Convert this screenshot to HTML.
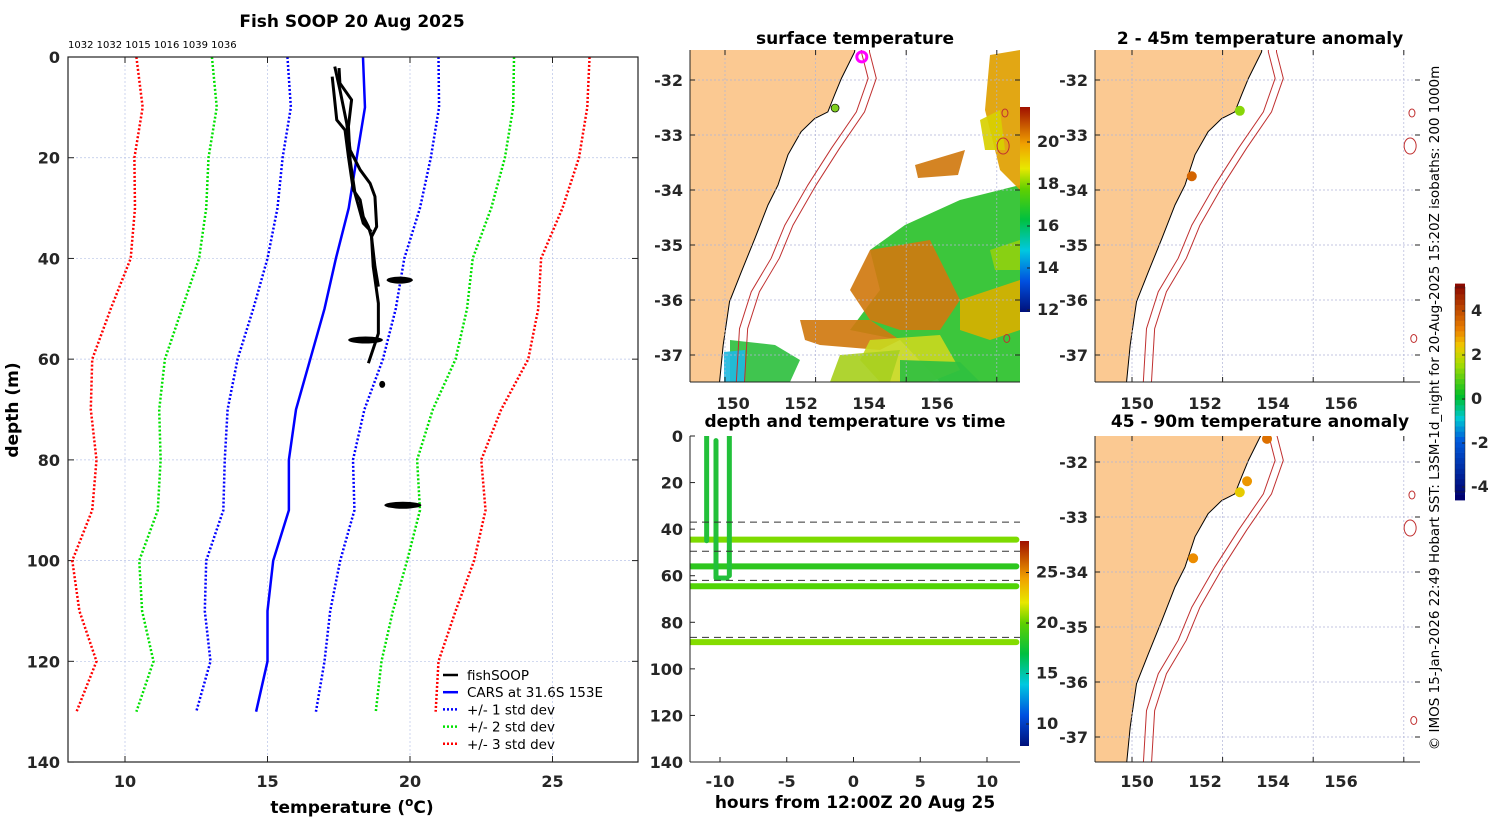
<!DOCTYPE html>
<html><head><meta charset="utf-8">
<style>
html,body{margin:0;padding:0;background:#fff;}
svg{display:block;font-family:"DejaVu Sans","Liberation Sans",sans-serif;}
.tk{font-weight:bold;font-size:16px;fill:#262626;}
.tt{font-weight:bold;font-size:17px;fill:#000;}
</style></head>
<body>
<svg id="fig" width="1500" height="820" viewBox="0 0 1500 820" xmlns="http://www.w3.org/2000/svg">
<defs>
<clipPath id="c1"><rect x="68" y="57" width="570" height="705"/></clipPath>
<clipPath id="c2"><rect x="690" y="50" width="330" height="332"/></clipPath>
<clipPath id="c3"><rect x="690" y="436" width="330" height="326"/></clipPath>
<clipPath id="c4"><rect x="1095" y="50" width="325" height="332"/></clipPath>
<clipPath id="c5"><rect x="1095" y="436" width="325" height="326"/></clipPath>
<linearGradient id="sstcb" x1="0" y1="1" x2="0" y2="0">
<stop offset="0" stop-color="#00107a"/><stop offset="0.15" stop-color="#0050e0"/><stop offset="0.3" stop-color="#00c8e0"/><stop offset="0.45" stop-color="#00c040"/><stop offset="0.6" stop-color="#60d000"/><stop offset="0.7" stop-color="#e8e800"/><stop offset="0.82" stop-color="#f0a000"/><stop offset="1" stop-color="#a01000"/>
</linearGradient>
</defs>
<text class="tt" x="352" y="27" text-anchor="middle">Fish SOOP 20 Aug 2025</text>
<text x="68" y="48" font-size="10" fill="#000">1032 1032 1015 1016 1039 1036</text>
<text class="tt" x="855" y="44" text-anchor="middle">surface temperature</text>
<text class="tt" x="855" y="427" text-anchor="middle">depth and temperature vs time</text>
<text class="tt" x="1260" y="44" text-anchor="middle">2 - 45m temperature anomaly</text>
<text class="tt" x="1260" y="427" text-anchor="middle">45 - 90m temperature anomaly</text>
<text class="tt" x="352" y="813" text-anchor="middle">temperature (<tspan baseline-shift="super" font-size="12">o</tspan>C)</text>
<text class="tt" x="0" y="0" transform="translate(18,410) rotate(-90)" text-anchor="middle">depth (m)</text>
<text class="tt" x="855" y="808" text-anchor="middle">hours from 12:00Z 20 Aug 25</text>
<text x="0" y="0" font-size="13.5" fill="#000" transform="translate(1439,408) rotate(-90)" text-anchor="middle">© IMOS 15-Jan-2026 22:49 Hobart SST: L3SM-1d_night for 20-Aug-2025 15:20Z isobaths: 200  1000m</text>
<g id="g1"></g><g id="g2"></g><g id="g3"></g><g id="g4"></g><g id="g5"></g>
</svg>
<script>
// ---- profile data ----
const carsDepth=[0,10,20,30,40,50,60,70,80,90,100,110,120,130];
const carsTemp=[18.35,18.42,18.13,17.85,17.4,17.0,16.5,16.0,15.75,15.75,15.2,15.0,15.0,14.6];
const carsSd=[2.65,2.6,2.6,2.5,2.4,2.5,2.55,2.4,2.25,2.3,2.35,2.2,2.0,2.1];
const fishA=[[3.9,17.27],[12.5,17.43],[14.5,17.72],[19.8,17.84],[26.4,18.01],[28.4,18.25],[31.7,18.36],[33.7,18.54],[35.7,18.65],[41.6,18.77],[45.6,18.89]];
const fishB=[[1.9,17.36],[6.5,17.54],[13.2,17.78],[18.5,17.9],[22.4,18.25],[25.1,18.6],[27.7,18.77],[33.7,18.83],[35.7,18.65],[41.6,18.71],[48.9,18.89],[54.9,18.89],[60.8,18.54]];
const fishC=[[2.2,17.51],[5.2,17.54],[8.5,17.95],[13.8,17.84],[20.5,17.9],[27.1,18.07],[33,18.36],[34.7,18.65]];
const fishHold=[[44.3,19.18,20.1],[56.2,17.83,19.05],[65,18.95,19.1],[89,19.1,20.4]];
const tempTicks=[10,15,20,25];
const depthTicks=[0,20,40,60,80,100,120,140];
// ---- time panel data ----
const trackDepths=[44.5,56,64.5,88.5];
const trackTemps=[19.5,18.0,18.8,19.6];
const castHours=[-11,-10.3,-9.3];
const castBottoms=[45,61,60];
const castTops=[0,2,0];
const layerBounds=[37,49.5,62,86.5];
const hourTicks=[-10,-5,0,5,10];
const tpCbTicks=[10,15,20,25];
// ---- map data ----
const coast=[[152.9,-31.2],[152.86,-31.49],[152.57,-31.97],[152.42,-32.27],[152.27,-32.58],[151.98,-32.70],[151.68,-32.94],[151.39,-33.36],[151.17,-33.91],[150.95,-34.27],[150.66,-34.88],[150.36,-35.49],[150.10,-36.03],[149.96,-36.82],[149.88,-37.49],[149.86,-37.8]];
const iso200=[[153.01,-31.2],[153.01,-31.49],[153.16,-31.97],[152.90,-32.58],[152.35,-33.24],[151.83,-33.91],[151.32,-34.64],[151.02,-35.24],[150.58,-35.85],[150.32,-36.52],[150.25,-37.49],[150.24,-37.8]];
const lonTicks=[150,152,154,156];
const latTicks=[-32,-33,-34,-35,-36,-37];
const shallowLon=[151.32,152.38], shallowLat=[-33.75,-32.56], shallowAnom=[3.5,1.2];
const deepLon=[152.98,152.54,152.38,151.35], deepLat=[-31.58,-32.35,-32.55,-33.75], deepAnom=[3.3,2.8,2.2,2.9];
const seamountLon=[156.18,156.14,156.22], seamountLat=[-32.6,-33.2,-36.7];
const sstCbTicks=[12,14,16,18,20];
const anomCbTicks=[-4,-2,0,2,4];

const NS="http://www.w3.org/2000/svg";
function mk(p,t,a){const e=document.createElementNS(NS,t);for(const k in a)e.setAttribute(k,a[k]);p.appendChild(e);return e;}
function txt(p,x,y,s,cls,anchor){const e=mk(p,'text',{x:x,y:y,'class':cls,'text-anchor':anchor||'middle'});e.textContent=s;return e;}
function lerpC(stops,v){for(let i=1;i<stops.length;i++){if(v<=stops[i][0]||i==stops.length-1){const a=stops[i-1],b=stops[i];let f=(v-a[0])/(b[0]-a[0]);f=Math.max(0,Math.min(1,f));const c=[0,1,2].map(j=>Math.round(a[1][j]+(b[1][j]-a[1][j])*f));return 'rgb('+c.join(',')+')';}}}

// ===== Panel 1 =====
const g1=document.getElementById('g1');
const X1=t=>68+(t-8)*28.5, Y1=d=>57+d*5.036;
tempTicks.forEach(t=>{const l=mk(g1,'line',{x1:X1(t),x2:X1(t),y1:57,y2:762,stroke:'#b8c4e8','stroke-width':0.7,'stroke-dasharray':'2,2'});
 mk(g1,'line',{x1:X1(t),x2:X1(t),y1:57,y2:63,stroke:'#222'});mk(g1,'line',{x1:X1(t),x2:X1(t),y1:762,y2:756,stroke:'#222'});
 const tx=txt(g1,X1(t),787,String(t),'tk');});
depthTicks.forEach(d=>{if(d>0&&d<140){const l=mk(g1,'line',{x1:68,x2:638,y1:Y1(d),y2:Y1(d),stroke:'#b8c4e8','stroke-width':0.7,'stroke-dasharray':'2,2'});}
 mk(g1,'line',{x1:68,x2:74,y1:Y1(d),y2:Y1(d),stroke:'#222'});mk(g1,'line',{x1:638,x2:632,y1:Y1(d),y2:Y1(d),stroke:'#222'});
 const tx=txt(g1,60,Y1(d)+6,String(d),'tk','end');});
const p1=mk(g1,'g',{'clip-path':'url(#c1)'});
function pl(p,pts,attrs,name){const e=mk(p,'polyline',Object.assign({points:pts.map(q=>q.join(',')).join(' '),fill:'none'},attrs));return e;}
const sdCols=['#0000ff','#00e000','#ff0000'];
[1,2,3].forEach(k=>{[-1,1].forEach(s=>{pl(p1,carsDepth.map((d,i)=>[X1(carsTemp[i]+s*k*carsSd[i]),Y1(d)]),{stroke:sdCols[k-1],'stroke-width':2.5,'stroke-dasharray':'2,2'},'std-dev-'+k+(s<0?'-low':'-high'));});});
pl(p1,carsDepth.map((d,i)=>[X1(carsTemp[i]),Y1(d)]),{stroke:'#0000ff','stroke-width':2.5},'cars-mean-line');
[fishA,fishB,fishC].forEach((f,i)=>pl(p1,f.map(q=>[X1(q[1]),Y1(q[0])]),{stroke:'#000','stroke-width':3,'stroke-linejoin':'round'},'fishsoop-profile-'+(i+1)));
fishHold.forEach(h=>{const e=mk(p1,'ellipse',{cx:(X1(h[1])+X1(h[2]))/2,cy:Y1(h[0]),rx:Math.max(3,(X1(h[2])-X1(h[1]))/2),ry:3.5,fill:'#000'});});
mk(g1,'rect',{x:68,y:57,width:570,height:705,fill:'none',stroke:'#222','stroke-width':1.2});
const lg=mk(g1,'g',{});
const legItems=[['fishSOOP','#000',''],['CARS at 31.6S 153E','#0000ff',''],['+/- 1 std dev','#0000ff','2,2'],['+/- 2 std dev','#00e000','2,2'],['+/- 3 std dev','#ff0000','2,2']];
legItems.forEach((it,i)=>{const y=675+i*17.2;mk(lg,'line',{x1:443,x2:458,y1:y,y2:y,stroke:it[1],'stroke-width':2.5,'stroke-dasharray':it[2]});const t=mk(lg,'text',{x:467,y:y+5,'font-size':'13.5',fill:'#000'});t.textContent=it[0];});

// ===== map helper =====
function drawMap(gid,clip,x0,y0,w,h,x150,lab150,lat32y,latPx,showSst){
 const g=document.getElementById(gid);
 const LX=l=>x150+(l-150)*45.3, LY=a=>lat32y+(-32-a)*latPx;
 const cg=mk(g,'g',{'clip-path':'url(#'+clip+')'});
 const land=coast.map(q=>[LX(q[0]),LY(q[1])]);
 const lp=mk(cg,'polygon',{points:[[x0-5,y0-20]].concat(land).concat([[x0-5,y0+h+20]]).map(q=>q.join(',')).join(' '),fill:'#fbc992',stroke:'#000','stroke-width':1});
 
 if(showSst){
  const blobs=[
   ['#2bc12b',[[905,225],[960,200],[1020,185],[1020,382],[940,382],[900,340],[850,330],[880,290],[870,250]]],
   ['#d07a10',[[870,250],[930,240],[960,300],[940,330],[900,330],[870,320],[850,290]]],
   ['#d07a10',[[800,320],[870,320],[900,340],[880,350],[820,345],[805,340]]],
   ['#c8d820',[[870,340],[940,335],[960,370],[930,382],[880,382],[860,360]]],
   ['#d8b000',[[960,300],[1020,280],[1020,330],[990,340],[960,330]]],
   ['#30c040',[[730,340],[775,345],[800,360],[790,382],[730,382]]],
   ['#20b8e0',[[724,352],[745,350],[745,382],[724,382]]],
   ['#e0a000',[[990,55],[1020,50],[1020,190],[1000,170],[985,110]]],
   ['#d8d000',[[980,120],[1000,110],[1005,150],[985,150]]],
   ['#90d010',[[990,250],[1020,240],[1020,270],[995,270]]],
   ['#d07a10',[[915,165],[965,150],[958,175],[918,178]]],
   ['#a8d020',[[840,355],[900,350],[890,382],[830,382]]],
   ['#30c040',[[900,360],[960,362],[980,382],[900,382]]]];
  blobs.forEach(b=>{const e=mk(cg,'polygon',{points:b[1].map(q=>q.join(',')).join(' '),fill:b[0],opacity:0.92});});
 }
 lonTicks.forEach(l=>{const x=LX(l);const e=mk(cg,'line',{x1:x,x2:x,y1:y0,y2:y0+h,stroke:'#b0b4d8','stroke-width':0.7,'stroke-dasharray':'2,2'});
  mk(g,'line',{x1:x,x2:x,y1:y0+h,y2:y0+h-5,stroke:'#222'});mk(g,'line',{x1:x,x2:x,y1:y0,y2:y0+5,stroke:'#222'});});
 latTicks.forEach(a=>{const y=LY(a);if(y<y0||y>y0+h)return;const e=mk(cg,'line',{x1:x0,x2:x0+w,y1:y,y2:y,stroke:'#b0b4d8','stroke-width':0.7,'stroke-dasharray':'2,2'});
  mk(g,'line',{x1:x0,x2:x0+5,y1:y,y2:y,stroke:'#222'});mk(g,'line',{x1:x0+w,x2:x0+w-5,y1:y,y2:y,stroke:'#222'});
  const t=txt(g,x0-7,y+6,String(a),'tk','end');});
 pl(cg,iso200.map(q=>[LX(q[0]),LY(q[1])]),{stroke:'#c03030','stroke-width':1},'isobath-200m');
 pl(cg,iso200.map(q=>[LX(q[0]+0.18),LY(q[1])]),{stroke:'#c03030','stroke-width':1},'isobath-1000m');
 seamountLon.forEach((l,i)=>{const r=i==1?[6,8]:[3,4];const e=mk(cg,'ellipse',{cx:LX(l),cy:LY(seamountLat[i]),rx:r[0],ry:r[1],fill:'none',stroke:'#c03030','stroke-width':1});});
 mk(g,'line',{x1:x0,x2:x0,y1:y0,y2:y0+h,stroke:'#222','stroke-width':1});
 mk(g,'line',{x1:x0,x2:x0+w,y1:y0+h,y2:y0+h,stroke:'#222','stroke-width':1});
 return {g:g,cg:cg,LX:LX,LY:LY,lab:l=>lab150+(l-150)*34};
}
function lonLabels(m,y){lonTicks.forEach(l=>{const t=txt(m.g,m.lab(l),y,String(l),'tk');});}

// ===== Panel 2 =====
const m2=drawMap('g2','c2',690,50,330,332,725,733,80,55,true);
lonLabels(m2,409);
{const e=mk(m2.cg,'circle',{cx:m2.LX(153.02),cy:m2.LY(-31.58),r:5,fill:'none',stroke:'#ff00ff','stroke-width':3});
 const d=mk(m2.cg,'circle',{cx:m2.LX(152.43),cy:m2.LY(-32.51),r:4,fill:'#80d020',stroke:'#000','stroke-width':0.7});}
const cb2=mk(m2.g,'rect',{x:1020,y:107,width:10,height:205,fill:'url(#sstcb)'});
const CB2=v=>310-(v-12)*21;
sstCbTicks.forEach(v=>{mk(m2.g,'line',{x1:1027,x2:1030,y1:CB2(v),y2:CB2(v),stroke:'#222'});const t=txt(m2.g,1037,CB2(v)+5,String(v),'tk','start');t.setAttribute('font-size','13');});

// ===== Panel 3 =====
const g3=document.getElementById('g3');
const X3=hh=>720+(hh+10)*13.35, Y3=d=>436+d*2.3286;
const c3=mk(g3,'g',{'clip-path':'url(#c3)'});
const tpStops=[[7.8,[0,16,122]],[10,[0,60,210]],[13,[0,170,230]],[15,[0,210,200]],[17,[0,180,60]],[19,[90,215,0]],[21,[230,230,0]],[24,[240,160,0]],[28,[150,10,0]]];
trackDepths.forEach((d,i)=>{const e=mk(c3,'line',{x1:X3(-12.2),x2:X3(12.2),y1:Y3(d),y2:Y3(d),stroke:lerpC(tpStops,trackTemps[i]),'stroke-width':6,'stroke-linecap':'round'});});
castHours.forEach((hh,i)=>{const e=mk(c3,'line',{x1:X3(hh),x2:X3(hh),y1:Y3(castTops[i]),y2:Y3(castBottoms[i]),stroke:'#22c03a','stroke-width':5,'stroke-linecap':'round'});});
mk(c3,'line',{x1:X3(-10.3),x2:X3(-9.3),y1:Y3(61),y2:Y3(61),stroke:'#22c03a','stroke-width':5});
layerBounds.forEach(d=>{const e=mk(c3,'line',{x1:690,x2:1020,y1:Y3(d),y2:Y3(d),stroke:'#333','stroke-width':1,'stroke-dasharray':'7,5'});});
mk(g3,'line',{x1:690,x2:690,y1:436,y2:762,stroke:'#222'});
mk(g3,'line',{x1:690,x2:1020,y1:762,y2:762,stroke:'#222'});
hourTicks.forEach(hh=>{mk(g3,'line',{x1:X3(hh),x2:X3(hh),y1:762,y2:757,stroke:'#222'});const t=txt(g3,X3(hh),787,String(hh),'tk');});
depthTicks.forEach(d=>{mk(g3,'line',{x1:690,x2:695,y1:Y3(d),y2:Y3(d),stroke:'#222'});const t=txt(g3,683,Y3(d)+6,String(d),'tk','end');});
const cb3=mk(g3,'rect',{x:1020,y:541,width:9,height:205,fill:'url(#sstcb)'});
const CB3=v=>724-(v-10)*10.1;
tpCbTicks.forEach(v=>{mk(g3,'line',{x1:1026,x2:1029,y1:CB3(v),y2:CB3(v),stroke:'#222'});const t=txt(g3,1036,CB3(v)+5,String(v),'tk','start');t.setAttribute('font-size','13');});

// ===== Panels 4 & 5 =====
const anomStops=[[-4.6,[0,0,110]],[-2,[0,90,220]],[-1,[0,200,210]],[0,[0,190,40]],[1.5,[170,220,0]],[2.3,[240,200,0]],[3,[235,130,0]],[5,[140,10,0]]];
const m4=drawMap('g4','c4',1095,50,325,332,1132,1137,80,55,false);
lonLabels(m4,409);
shallowLon.forEach((l,i)=>{const e=mk(m4.cg,'circle',{cx:m4.LX(l),cy:m4.LY(shallowLat[i]),r:5,fill:lerpC(anomStops,shallowAnom[i])});});
const m5=drawMap('g5','c5',1095,436,325,326,1132,1137,462,55,false);
lonLabels(m5,787);
deepLon.forEach((l,i)=>{const e=mk(m5.cg,'circle',{cx:m5.LX(l),cy:m5.LY(deepLat[i]),r:5,fill:lerpC(anomStops,deepAnom[i])});});
const g4=document.getElementById('g4');
const CB4=v=>399-v*22;
for(let i=0;i<41;i++){const v=-4.6+i*(9.6/40);const y=CB4(v);mk(g4,'rect',{x:1455,y:y-5.4,width:10,height:5.6,fill:lerpC(anomStops,v)});}
{const e=mk(g4,'rect',{x:1455,y:287,width:10,height:205,fill:'none',stroke:'#222','stroke-width':0.5});}
anomCbTicks.forEach(v=>{mk(g4,'line',{x1:1462,x2:1465,y1:CB4(v),y2:CB4(v),stroke:'#222'});const t=txt(g4,1471,CB4(v)+5,String(v),'tk','start');t.setAttribute('font-size','13');});
</script>
</body></html>
